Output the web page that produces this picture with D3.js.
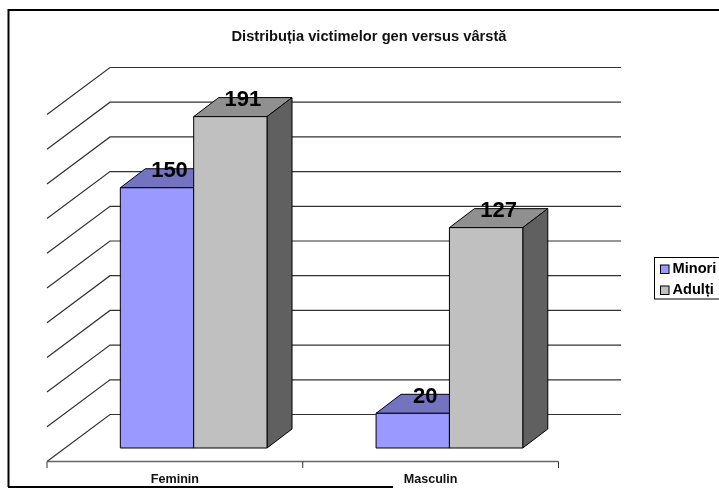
<!DOCTYPE html>
<html><head><meta charset="utf-8">
<script src="https://cdn.jsdelivr.net/npm/d3@7"></script>
<style>html,body{margin:0;padding:0;background:#fff}svg{display:block;filter:blur(0.35px)}text{font-family:"Liberation Sans",Arial,sans-serif}</style>
</head><body><script>
const chartTitle = "Distribuția victimelor gen versus vârstă";
const categories = ["Feminin", "Masculin"];
const seriesNames = ["Minori", "Adulți"];
const minori = [150, 20];
const adulti = [191, 127];
const yTicks = d3.range(0, 201, 20);
const colors = {Minori:{front:"#9999ff",top:"#7373bf",side:"#4d4d80"},"Adulți":{front:"#c0c0c0",top:"#909090",side:"#606060"}};

const W=719,H=497;
const svg=d3.select("body").append("svg").attr("width",W).attr("height",H);
const floorFrontY=461.5, backDX=63, backDY=-47, axisL=47, axisR=558.5;
const y=d3.scaleLinear().domain([0,200]).range([414.5,67.5]);
const x0=d3.scaleBand().domain(categories).range([axisL,axisR]);
const x1=d3.scaleBand().domain(seriesNames).range([0,146.7]);
const barDX=25, barDY=-19, planeDX=18.8;

// frame
svg.append("path").attr("d",`M8.5,487V10H719`).attr("fill","none").attr("stroke","#000").attr("stroke-width",2);
svg.append("path").attr("d",`M8,487H393`).attr("fill","none").attr("stroke","#000").attr("stroke-width",2);

svg.append("text").attr("x",369).attr("y",41).attr("text-anchor","middle").attr("font-size",14.7).attr("font-weight","bold").attr("fill","#111").text(chartTitle);

// gridlines
const grid=svg.append("g").attr("fill","none").attr("stroke-width",1.2);
yTicks.forEach((t,i)=>{
  grid.append("path").attr("d",`M${axisL},${y(t)-backDY}L${axisL+backDX},${y(t)}H621`).attr("stroke","#333");
});
// axis
const ax=svg.append("g");
ax.append("path").attr("d",`M${axisL},${floorFrontY}H${axisR}`).attr("stroke","#666").attr("stroke-width",1.5);
[axisL,(axisL+axisR)/2,axisR].forEach(v=>ax.append("path").attr("d",`M${v},${floorFrontY}V468`).attr("stroke","#333").attr("stroke-width",1));
categories.forEach(c=>ax.append("text").attr("x",x0(c)+x0.bandwidth()/2).attr("y",482.5).attr("text-anchor","middle").attr("font-size",12.6).attr("font-weight","bold").attr("fill","#111").text(c));

// bars
const data=[{s:"Minori",v:minori},{s:"Adulți",v:adulti}];
const h=d3.scaleLinear().domain([0,200]).range([0,347]);
const floorY=448;
categories.forEach((c,ci)=>{
  const g=svg.append("g");
  const xs=x0(c)+x0.bandwidth()/2+planeDX-146.7/2;
  data.forEach(d=>{
    const v=d.v[ci], xa=xs+x1(d.s), w=x1.bandwidth(), top=floorY-h(v), col=colors[d.s];
    const add=(p,f)=>g.append("path").attr("d",p).attr("fill",f).attr("stroke","#000").attr("stroke-width",1).attr("stroke-linejoin","round");
    add(`M${xa},${top}L${xa+barDX},${top+barDY}H${xa+w+barDX}L${xa+w},${top}Z`,col.top);
    add(`M${xa+w},${top}L${xa+w+barDX},${top+barDY}V${floorY+barDY}L${xa+w},${floorY}Z`,col.side);
    add(`M${xa},${top}H${xa+w}V${floorY}H${xa}Z`,col.front);
  });
});
// value labels, drawn over all bars
categories.forEach((c,ci)=>{
  const xs=x0(c)+x0.bandwidth()/2+planeDX-146.7/2;
  data.forEach(d=>{
    const v=d.v[ci], top=floorY-h(v);
    svg.append("text").attr("x",xs+x1(d.s)+x1.bandwidth()/2+12.5).attr("y",top-10.5)
      .attr("text-anchor","middle").attr("font-size",22).attr("font-weight","bold").attr("fill","#000").text(v);
  });
});

// legend
const lg=svg.append("g");
lg.append("rect").attr("x",654.5).attr("y",257.5).attr("width",70).attr("height",41.5).attr("fill","#fff").attr("stroke","#000");
seriesNames.forEach((s,i)=>{
  const yy=269.5+i*21;
  lg.append("rect").attr("x",660.5).attr("y",yy-4.5).attr("width",8.5).attr("height",8.5).attr("fill",colors[s].front).attr("stroke","#000");
  lg.append("text").attr("x",672.5).attr("y",yy+3.5).attr("font-size",14.6).attr("font-weight","bold").attr("fill","#000").text(s);
});
</script></body></html>
